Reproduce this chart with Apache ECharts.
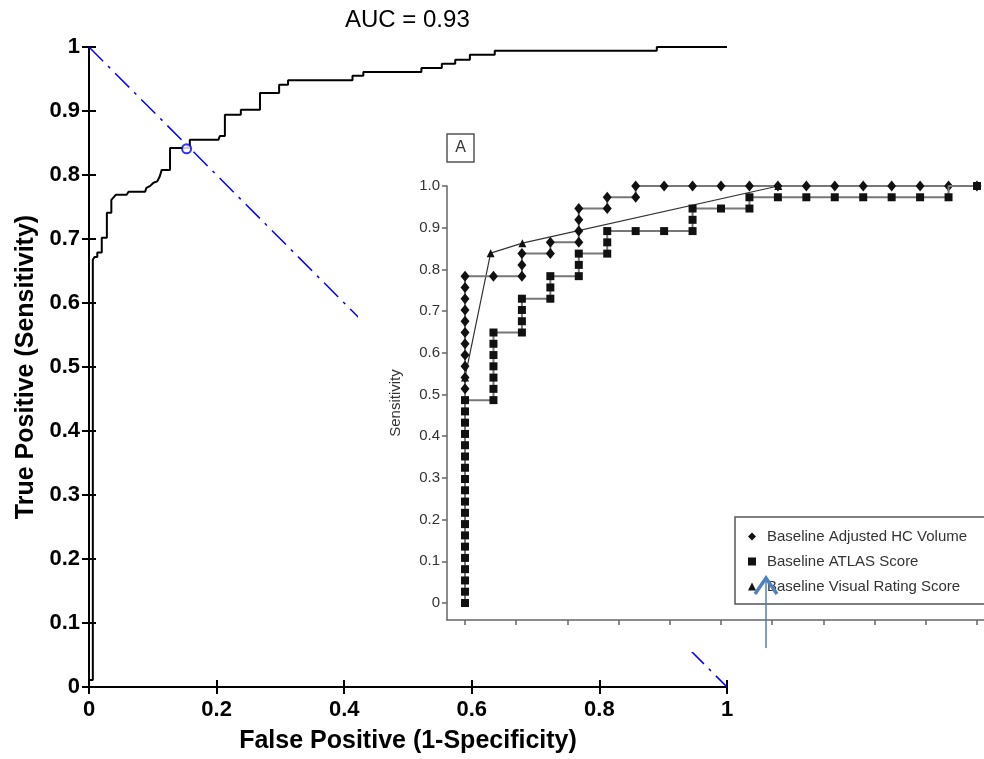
<!DOCTYPE html>
<html>
<head>
<meta charset="utf-8">
<script src="https://cdn.jsdelivr.net/npm/echarts@6/dist/echarts.min.js"></script>
<style>
  html, body { margin: 0; padding: 0; background: #fff; }
  #chart { width: 984px; height: 759px; }
</style>
</head>
<body>
<div id="chart"></div>
<script>
// main ROC (step vertices)
var rocFpr = [0, 0, 0.006, 0.006, 0.009, 0.009, 0.013, 0.013, 0.020, 0.020,
  0.028, 0.028, 0.035, 0.035, 0.038, 0.042, 0.059, 0.062, 0.088, 0.090,
  0.096, 0.101, 0.107, 0.111, 0.114, 0.127, 0.127, 0.158, 0.158, 0.203,
  0.205, 0.213, 0.213, 0.238, 0.238, 0.268, 0.268, 0.298, 0.298, 0.312,
  0.312, 0.413, 0.413, 0.430, 0.430, 0.521, 0.521, 0.553, 0.553, 0.574,
  0.574, 0.597, 0.597, 0.636, 0.636, 0.890, 0.890, 1];
var rocTpr = [0, 0.011, 0.011, 0.668, 0.668, 0.672, 0.672, 0.679, 0.679, 0.702,
  0.702, 0.741, 0.741, 0.761, 0.761, 0.769, 0.769, 0.774, 0.774, 0.780,
  0.783, 0.788, 0.790, 0.798, 0.808, 0.808, 0.842, 0.842, 0.855, 0.855,
  0.861, 0.861, 0.894, 0.894, 0.902, 0.902, 0.928, 0.928, 0.941, 0.941,
  0.948, 0.948, 0.955, 0.955, 0.961, 0.961, 0.967, 0.967, 0.974, 0.974,
  0.980, 0.980, 0.988, 0.988, 0.994, 0.994, 1, 1];
var chanceX = [0, 1];
var chanceY = [1, 0];
var cutoff = [0.153, 0.841];

// inset (panel A): false positives out of 18, true positives out of 37
var N_NEG = 18, N_POS = 37;
var hcFp = [0, 0, 0, 0, 0, 0, 0, 0, 0, 0, 0, 1, 2, 2, 2, 3, 3, 4, 4, 4, 4, 5, 5, 6, 6,
  7, 8, 9, 10, 11, 12, 13, 14, 15, 16, 17, 18];
var hcTp = [19, 20, 21, 22, 23, 24, 25, 26, 27, 28, 29, 29, 29, 30, 31, 31, 32, 32, 33, 34, 35, 35, 36, 36, 37,
  37, 37, 37, 37, 37, 37, 37, 37, 37, 37, 37, 37];
var atlasFp = [0, 0, 0, 0, 0, 0, 0, 0, 0, 0, 0, 0, 0, 0, 0, 0, 0, 0, 0,
  1, 1, 1, 1, 1, 1, 1, 2, 2, 2, 2, 3, 3, 3, 4, 4, 4, 5, 5, 5, 6, 7, 8, 8, 8, 9, 10, 10,
  11, 12, 13, 14, 15, 16, 17, 18];
var atlasTp = [0, 1, 2, 3, 4, 5, 6, 7, 8, 9, 10, 11, 12, 13, 14, 15, 16, 17, 18,
  18, 19, 20, 21, 22, 23, 24, 24, 25, 26, 27, 27, 28, 29, 29, 30, 31, 31, 32, 33, 33, 33, 33, 34, 35, 35, 35, 36,
  36, 36, 36, 36, 36, 36, 36, 37];
var vrsFpr = [0, 0, 0.05, 0.112, 0.612, 1];
var vrsSens = [0, 0.541, 0.839, 0.863, 1, 1];
var insetTicks = [0, 0.1, 0.2, 0.3, 0.4, 0.5, 0.6, 0.7, 0.8, 0.9, 1.0];
var legendNames = ['Baseline Adjusted HC Volume', 'Baseline ATLAS Score', 'Baseline Visual Rating Score'];

function zip(xs, ys) { return xs.map(function (x, i) { return [x, ys[i]]; }); }
function counts(fp, tp) { return fp.map(function (f, i) { return [f / N_NEG, tp[i] / N_POS]; }); }

var FONT = 'Liberation Sans, Arial, sans-serif';
var chart = echarts.init(document.getElementById('chart'));

var mainLbl = {fontFamily: FONT, fontSize: 22, fontWeight: 'bold', color: '#000'};
function mainFmt(v) { return (v === 0 || v === 1) ? String(v) : v.toFixed(1); }
var insetAxisLine = {onZero: false, lineStyle: {color: '#666', width: 1.5}};

option = {
  animation: false,
  backgroundColor: '#fff',
  title: {text: 'AUC = 0.93', left: 340, top: 3, textStyle: {fontFamily: FONT, fontSize: 24, fontWeight: 'normal', color: '#000'}},
  grid: [
    {left: 89, top: 47, width: 638, height: 642},
    {left: 447, top: 186, width: 537, height: 434}
  ],
  xAxis: [
    {gridIndex: 0, type: 'value', min: 0, max: 1, interval: 0.2, position: 'bottom',
      axisLine: {lineStyle: {color: '#000', width: 2}}, axisTick: {inside: true, length: 7, lineStyle: {color: '#000', width: 2}},
      axisLabel: Object.assign({margin: 12, formatter: mainFmt}, mainLbl), splitLine: {show: false},
      name: 'False Positive (1-Specificity)', nameLocation: 'middle', nameGap: 42,
      nameTextStyle: {fontFamily: FONT, fontSize: 25, fontWeight: 'bold', color: '#000'}},
    {gridIndex: 0, type: 'value', min: 0, max: 1, interval: 0.2, position: 'top',
      axisLine: {lineStyle: {color: '#000', width: 2}}, axisTick: {inside: true, length: 7, lineStyle: {color: '#000', width: 2}},
      axisLabel: {show: false}, splitLine: {show: false}},
    {gridIndex: 1, type: 'value', min: -0.0352, max: 1.0137, z: 6,
      axisLine: insetAxisLine, axisTick: {customValues: insetTicks, length: 5, lineStyle: {color: '#666', width: 1.5}},
      axisLabel: {show: false}, splitLine: {show: false}}
  ],
  yAxis: [
    {gridIndex: 0, type: 'value', min: 0, max: 1, interval: 0.1, position: 'left',
      axisLine: {lineStyle: {color: '#000', width: 2}}, axisTick: {inside: true, length: 7, lineStyle: {color: '#000', width: 2}},
      axisLabel: Object.assign({margin: 9, formatter: mainFmt}, mainLbl), splitLine: {show: false},
      name: 'True Positive (Sensitivity)', nameLocation: 'middle', nameGap: 46,
      nameTextStyle: {fontFamily: FONT, fontSize: 25, fontWeight: 'bold', color: '#000'}},
    {gridIndex: 0, type: 'value', min: 0, max: 1, interval: 0.1, position: 'right',
      axisLine: {lineStyle: {color: '#000', width: 2}}, axisTick: {inside: true, length: 7, lineStyle: {color: '#000', width: 2}},
      axisLabel: {show: false}, splitLine: {show: false}},
    {gridIndex: 1, type: 'value', min: -0.0408, max: 1.0, z: 6,
      axisLine: insetAxisLine, axisTick: {customValues: insetTicks, length: 5, lineStyle: {color: '#666', width: 1.5}},
      axisLabel: {customValues: insetTicks, margin: 7, fontFamily: FONT, fontSize: 15, color: '#333',
        formatter: function (v) { return v === 0 ? '0' : v.toFixed(1); }},
      splitLine: {show: false},
      name: 'Sensitivity', nameLocation: 'middle', nameGap: 44,
      nameTextStyle: {fontFamily: FONT, fontSize: 15, color: '#333'}}
  ],
  legend: {
    orient: 'vertical', left: 735, top: 517, z: 8,
    data: [{name: legendNames[0], icon: 'diamond'}, {name: legendNames[1], icon: 'rect'}, {name: legendNames[2], icon: 'triangle'}],
    itemWidth: 8, itemHeight: 8, itemGap: 10, padding: [12, 30, 10, 13],
    backgroundColor: '#fff', borderColor: '#555', borderWidth: 1.5, borderRadius: 0,
    textStyle: {fontFamily: FONT, fontSize: 15, color: '#333', padding: [0, 0, 0, 6]}
  },
  graphic: [
    {type: 'rect', z: 4, shape: {x: 358, y: 113, width: 626, height: 539}, style: {fill: '#fff'}},
    {type: 'rect', z: 9, shape: {x: 447, y: 134, width: 27, height: 28}, style: {fill: '#fff', stroke: '#555', lineWidth: 1.5}},
    {type: 'text', z: 9, x: 460.5, y: 148, style: {text: 'A', fontFamily: FONT, fontSize: 16, fill: '#333', align: 'center', verticalAlign: 'middle'}},
    {type: 'line', z: 9, shape: {x1: 766, y1: 648, x2: 766, y2: 580}, style: {stroke: '#4f81bd', lineWidth: 1.5}},
    {type: 'polyline', z: 9, shape: {points: [[755, 594], [766, 578], [777, 594]]}, style: {stroke: '#4f81bd', lineWidth: 3.5, fill: null}}
  ],
  series: [
    {type: 'line', xAxisIndex: 0, yAxisIndex: 0, data: zip(rocFpr, rocTpr), showSymbol: false, z: 2,
      lineStyle: {color: '#000', width: 2}},
    {type: 'line', xAxisIndex: 0, yAxisIndex: 0, data: zip(chanceX, chanceY), showSymbol: false, z: 2,
      lineStyle: {color: '#0000ff', width: 1.5, type: [20, 7, 3, 7]}},
    {type: 'scatter', xAxisIndex: 0, yAxisIndex: 0, data: [cutoff], symbol: 'emptyCircle', symbolSize: 9, z: 3,
      itemStyle: {color: '#0000ff', borderWidth: 2}},
    {name: legendNames[2], type: 'line', xAxisIndex: 2, yAxisIndex: 2, data: zip(vrsFpr, vrsSens), z: 6,
      symbol: 'triangle', symbolSize: 8, showAllSymbol: true, itemStyle: {color: '#111'},
      lineStyle: {color: '#333', width: 1.2}},
    {name: legendNames[0], type: 'line', xAxisIndex: 2, yAxisIndex: 2, data: counts(hcFp, hcTp), z: 7,
      symbol: 'diamond', symbolSize: [9, 11], showAllSymbol: true, itemStyle: {color: '#111'},
      lineStyle: {color: '#777', width: 2}},
    {name: legendNames[1], type: 'line', xAxisIndex: 2, yAxisIndex: 2, data: counts(atlasFp, atlasTp), z: 8, step: 'start',
      symbol: 'rect', symbolSize: 8, showAllSymbol: true, itemStyle: {color: '#111'},
      lineStyle: {color: '#777', width: 2}}
  ]
};

chart.setOption(option);
</script>
</body>
</html>
